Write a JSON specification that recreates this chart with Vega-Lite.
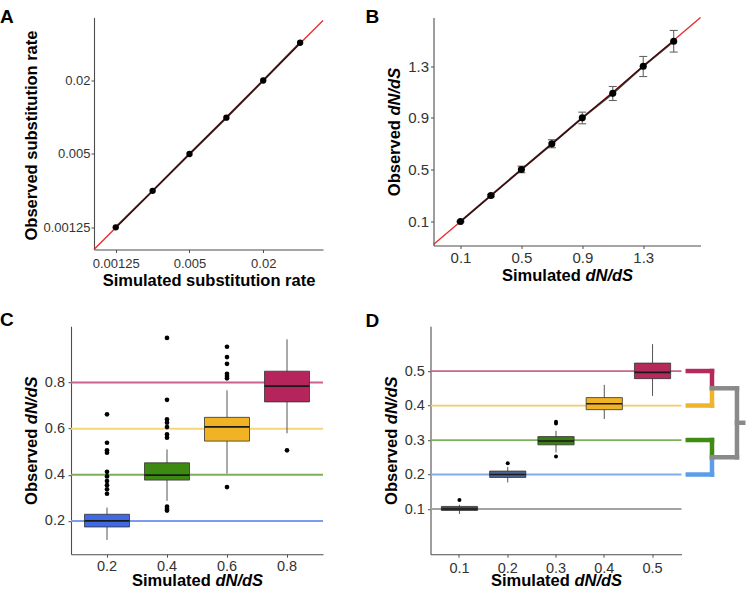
{
  "$schema": "https://vega.github.io/schema/vega-lite/v6.json",
  "background": "white",
  "padding": {"left": 0, "top": 7.5, "right": 0, "bottom": 0},
  "spacing": 20.7,
  "resolve": {"scale": {"fill": "independent", "stroke": "independent", "color": "independent"}},
  "datasets": {
    "identityA": [{"lo": 0.00083, "hi": 0.0615}],
    "substitution": [
      {"simulated": 0.00125, "observed": 0.00126},
      {"simulated": 0.0025, "observed": 0.0025},
      {"simulated": 0.005, "observed": 0.005},
      {"simulated": 0.01, "observed": 0.0099},
      {"simulated": 0.02, "observed": 0.0199},
      {"simulated": 0.04, "observed": 0.0405}
    ],
    "identityB": [{"lo": -0.077, "hi": 1.676}],
    "dndsSim": [
      {"simulated": 0.1, "observed": 0.1, "lo": 0.096, "hi": 0.104},
      {"simulated": 0.3, "observed": 0.301, "lo": 0.292, "hi": 0.31},
      {"simulated": 0.5, "observed": 0.502, "lo": 0.477, "hi": 0.528},
      {"simulated": 0.7, "observed": 0.7, "lo": 0.67, "hi": 0.732},
      {"simulated": 0.9, "observed": 0.901, "lo": 0.855, "hi": 0.945},
      {"simulated": 1.1, "observed": 1.09, "lo": 1.035, "hi": 1.143},
      {"simulated": 1.3, "observed": 1.3, "lo": 1.22, "hi": 1.375},
      {"simulated": 1.5, "observed": 1.493, "lo": 1.409, "hi": 1.576}
    ],
    "referenceC": [
      {"level": "0.2", "value": 0.2},
      {"level": "0.4", "value": 0.4},
      {"level": "0.6", "value": 0.6},
      {"level": "0.8", "value": 0.8}
    ],
    "boxesC": [
      {"simulated": "0.2", "lower": 0.118, "q1": 0.174, "median": 0.2, "q3": 0.229, "upper": 0.258},
      {"simulated": "0.4", "lower": 0.287, "q1": 0.377, "median": 0.399, "q3": 0.452, "upper": 0.51},
      {"simulated": "0.6", "lower": 0.405, "q1": 0.546, "median": 0.608, "q3": 0.649, "upper": 0.766},
      {"simulated": "0.8", "lower": 0.58, "q1": 0.716, "median": 0.784, "q3": 0.849, "upper": 0.987}
    ],
    "outliersC": [
      {"simulated": "0.2", "value": 0.662},
      {"simulated": "0.2", "value": 0.539},
      {"simulated": "0.2", "value": 0.506},
      {"simulated": "0.2", "value": 0.496},
      {"simulated": "0.2", "value": 0.413},
      {"simulated": "0.2", "value": 0.393},
      {"simulated": "0.2", "value": 0.373},
      {"simulated": "0.2", "value": 0.355},
      {"simulated": "0.2", "value": 0.337},
      {"simulated": "0.2", "value": 0.318},
      {"simulated": "0.4", "value": 0.993},
      {"simulated": "0.4", "value": 0.725},
      {"simulated": "0.4", "value": 0.64},
      {"simulated": "0.4", "value": 0.626},
      {"simulated": "0.4", "value": 0.607},
      {"simulated": "0.4", "value": 0.575},
      {"simulated": "0.4", "value": 0.561},
      {"simulated": "0.4", "value": 0.262},
      {"simulated": "0.4", "value": 0.252},
      {"simulated": "0.4", "value": 0.245},
      {"simulated": "0.6", "value": 0.955},
      {"simulated": "0.6", "value": 0.91},
      {"simulated": "0.6", "value": 0.881},
      {"simulated": "0.6", "value": 0.838},
      {"simulated": "0.6", "value": 0.828},
      {"simulated": "0.6", "value": 0.818},
      {"simulated": "0.6", "value": 0.347},
      {"simulated": "0.8", "value": 0.506}
    ],
    "referenceD": [
      {"level": "0.1", "value": 0.1},
      {"level": "0.2", "value": 0.2},
      {"level": "0.3", "value": 0.3},
      {"level": "0.4", "value": 0.4},
      {"level": "0.5", "value": 0.5}
    ],
    "boxesD": [
      {"simulated": "0.1", "lower": 0.0855, "q1": 0.096, "median": 0.1, "q3": 0.1075, "upper": 0.112},
      {"simulated": "0.2", "lower": 0.177, "q1": 0.1915, "median": 0.2, "q3": 0.21, "upper": 0.222},
      {"simulated": "0.3", "lower": 0.264, "q1": 0.286, "median": 0.297, "q3": 0.31, "upper": 0.327},
      {"simulated": "0.4", "lower": 0.361, "q1": 0.388, "median": 0.405, "q3": 0.423, "upper": 0.46},
      {"simulated": "0.5", "lower": 0.428, "q1": 0.478, "median": 0.496, "q3": 0.523, "upper": 0.578}
    ],
    "outliersD": [
      {"simulated": "0.1", "value": 0.126},
      {"simulated": "0.2", "value": 0.233},
      {"simulated": "0.3", "value": 0.353},
      {"simulated": "0.3", "value": 0.348},
      {"simulated": "0.3", "value": 0.252}
    ],
    "bracketD": [
      {"branch": "0.5", "from_depth": 1.025, "to_depth": 1.1215, "from_value": 0.5, "to_value": 0.5},
      {"branch": "0.5", "from_depth": 1.1215, "to_depth": 1.1215, "from_value": 0.5, "to_value": 0.45},
      {"branch": "0.4", "from_depth": 1.025, "to_depth": 1.1215, "from_value": 0.4, "to_value": 0.4},
      {"branch": "0.4", "from_depth": 1.1215, "to_depth": 1.1215, "from_value": 0.4, "to_value": 0.45},
      {"branch": "0.3", "from_depth": 1.025, "to_depth": 1.1215, "from_value": 0.3, "to_value": 0.3},
      {"branch": "0.3", "from_depth": 1.1215, "to_depth": 1.1215, "from_value": 0.3, "to_value": 0.25},
      {"branch": "0.2", "from_depth": 1.025, "to_depth": 1.1215, "from_value": 0.2, "to_value": 0.2},
      {"branch": "0.2", "from_depth": 1.1215, "to_depth": 1.1215, "from_value": 0.2, "to_value": 0.25},
      {"branch": "joined", "from_depth": 1.1215, "to_depth": 1.221, "from_value": 0.45, "to_value": 0.45},
      {"branch": "joined", "from_depth": 1.1215, "to_depth": 1.221, "from_value": 0.25, "to_value": 0.25},
      {"branch": "joined", "from_depth": 1.221, "to_depth": 1.221, "from_value": 0.45, "to_value": 0.25},
      {"branch": "joined", "from_depth": 1.221, "to_depth": 1.246, "from_value": 0.35, "to_value": 0.35}
    ]
  },
  "vconcat": [
    {
      "spacing": 41.5,
      "resolve": {"scale": {"fill": "independent", "stroke": "independent", "color": "independent"}},
      "hconcat": [
        {
          "width": 252,
          "height": 232,
          "title": {"text": "A", "dx": -71, "dy": 13.5},
          "resolve": {"axis": {"x": "independent", "y": "independent"}},
          "layer": [
            {
              "data": {"name": "identityA"},
              "mark": {"type": "rule", "color": "#e8292b", "strokeWidth": 1.3},
              "encoding": {
                "x": {
                  "field": "lo", "type": "quantitative",
                  "scale": {"type": "log", "domain": [0.000539, 0.0615], "nice": false},
                  "axis": {"orient": "bottom", "values": [0.00125, 0.005, 0.02], "format": "~g", "labelFontSize": 13, "labelPadding": 5, "labelFlush": false,
                           "domainDash": [0, 23, 240],
                           "title": "Simulated substitution rate", "titleAlign": "center", "titleBaseline": "alphabetic", "titleX": 137.5, "titleY": 36}
                },
                "y": {
                  "field": "lo", "type": "quantitative",
                  "scale": {"type": "log", "domain": [0.00083, 0.0651], "nice": false},
                  "axis": {"orient": "left", "offset": -23, "values": [0.00125, 0.005, 0.02], "format": "~g", "labelFontSize": 13, "labelPadding": 1, "labelFlush": false,
                           "title": "Observed substitution rate", "titleAngle": 270, "titleAlign": "center", "titleBaseline": "alphabetic", "titleX": -57.5, "titleY": 117.5}
                },
                "x2": {"field": "hi"},
                "y2": {"field": "hi"}
              }
            },
            {
              "data": {"name": "substitution"},
              "mark": {"type": "line", "color": "#000000", "strokeWidth": 2, "opacity": 0.75},
              "encoding": {
                "x": {"field": "simulated", "type": "quantitative", "axis": null},
                "y": {"field": "observed", "type": "quantitative", "axis": null}
              }
            },
            {
              "data": {"name": "substitution"},
              "mark": {"type": "point", "filled": true, "color": "#000000", "size": 40, "opacity": 1},
              "encoding": {
                "x": {"field": "simulated", "type": "quantitative", "axis": null},
                "y": {"field": "observed", "type": "quantitative", "axis": null}
              }
            }
          ]
        },
        {
          "width": 267,
          "height": 228,
          "title": {"text": "B", "dx": -68, "dy": 14.2},
          "resolve": {"axis": {"x": "independent", "y": "independent"}},
          "layer": [
            {
              "data": {"name": "identityB"},
              "mark": {"type": "rule", "color": "#e8292b", "strokeWidth": 1.3},
              "encoding": {
                "x": {
                  "field": "lo", "type": "quantitative",
                  "scale": {"domain": [-0.077, 1.676], "nice": false, "zero": false},
                  "axis": {"orient": "bottom", "values": [0.1, 0.5, 0.9, 1.3], "format": ".1f", "labelFontSize": 15, "labelPadding": 1.5, "labelFlush": false,
                           "title": "Simulated", "titleAlign": "left", "titleBaseline": "alphabetic", "titleX": 68, "titleY": 35}
                },
                "y": {
                  "field": "lo", "type": "quantitative",
                  "scale": {"domain": [-0.085, 1.676], "nice": false, "zero": false},
                  "axis": {"orient": "left", "values": [0.1, 0.5, 0.9, 1.3], "format": ".1f", "labelFontSize": 15, "labelPadding": 2, "labelFlush": false,
                           "title": "Observed", "titleAngle": 270, "titleAlign": "left", "titleBaseline": "alphabetic", "titleX": -34.5, "titleY": 178.2}
                },
                "x2": {"field": "hi"},
                "y2": {"field": "hi"}
              }
            },
            {
              "data": {"name": "dndsSim"},
              "mark": {"type": "rule", "color": "#666666", "strokeWidth": 1.1},
              "encoding": {
                "x": {"field": "simulated", "type": "quantitative", "axis": null},
                "y": {"field": "lo", "type": "quantitative", "axis": null},
                "y2": {"field": "hi"}
              }
            },
            {
              "data": {"name": "dndsSim"},
              "mark": {"type": "tick", "orient": "horizontal", "color": "#666666", "size": 8, "thickness": 1.1, "opacity": 1},
              "encoding": {
                "x": {"field": "simulated", "type": "quantitative", "axis": null},
                "y": {"field": "lo", "type": "quantitative", "axis": null}
              }
            },
            {
              "data": {"name": "dndsSim"},
              "mark": {"type": "tick", "orient": "horizontal", "color": "#666666", "size": 8, "thickness": 1.1, "opacity": 1},
              "encoding": {
                "x": {"field": "simulated", "type": "quantitative", "axis": null},
                "y": {"field": "hi", "type": "quantitative", "axis": null}
              }
            },
            {
              "data": {"name": "dndsSim"},
              "mark": {"type": "line", "color": "#000000", "strokeWidth": 2, "opacity": 0.75},
              "encoding": {
                "x": {
                  "field": "simulated", "type": "quantitative",
                  "axis": {"orient": "bottom", "labels": false, "ticks": false, "domain": false,
                           "title": "dN/dS", "titleFontStyle": "italic", "titleAlign": "left", "titleBaseline": "alphabetic", "titleX": 151.4, "titleY": 35}
                },
                "y": {
                  "field": "observed", "type": "quantitative",
                  "axis": {"orient": "left", "labels": false, "ticks": false, "domain": false,
                           "title": "dN/dS", "titleFontStyle": "italic", "titleAngle": 270, "titleAlign": "left", "titleBaseline": "alphabetic", "titleX": -34.5, "titleY": 97.5}
                }
              }
            },
            {
              "data": {"name": "dndsSim"},
              "mark": {"type": "point", "filled": true, "color": "#000000", "size": 50, "opacity": 1},
              "encoding": {
                "x": {"field": "simulated", "type": "quantitative", "axis": null},
                "y": {"field": "observed", "type": "quantitative", "axis": null}
              }
            }
          ]
        }
      ]
    },
    {
      "spacing": 41.5,
      "resolve": {"scale": {"fill": "independent", "stroke": "independent", "color": "independent"}},
      "hconcat": [
        {
          "width": 252,
          "height": 228,
          "title": {"text": "C", "dx": -71, "dy": 7.7},
          "resolve": {"axis": {"x": "independent", "y": "independent"}},
          "layer": [
            {
              "data": {"name": "referenceC"},
              "mark": {"type": "rule", "strokeWidth": 2},
              "encoding": {
                "y": {"field": "value", "type": "quantitative", "scale": {"domain": [0.056, 1.044], "nice": false, "zero": false}, "axis": null},
                "stroke": {
                  "field": "level", "type": "nominal", "legend": null,
                  "scale": {"domain": ["0.2", "0.4", "0.6", "0.8"], "range": ["#7d9cec", "#7bb152", "#f6d679", "#cb6390"]}
                }
              }
            },
            {
              "data": {"name": "boxesC"},
              "mark": {"type": "rule", "color": "#555555", "strokeWidth": 1},
              "encoding": {
                "x": {"field": "simulated", "type": "nominal", "scale": {"domain": ["0.2", "0.4", "0.6", "0.8"], "paddingInner": 0.25, "paddingOuter": 0.225}, "axis": null},
                "y": {"field": "lower", "type": "quantitative", "scale": {"domain": [0.056, 1.044], "nice": false, "zero": false}, "axis": null},
                "y2": {"field": "upper"}
              }
            },
            {
              "data": {"name": "boxesC"},
              "mark": {"type": "bar", "stroke": "#333333", "strokeWidth": 0.8},
              "encoding": {
                "x": {
                  "field": "simulated", "type": "nominal",
                  "scale": {"domain": ["0.2", "0.4", "0.6", "0.8"], "paddingInner": 0.25, "paddingOuter": 0.225},
                  "axis": {"orient": "bottom", "labelAngle": 0, "labelFontSize": 14.5, "labelPadding": 2.5,
                           "title": "Simulated", "titleAlign": "left", "titleBaseline": "alphabetic", "titleX": 60.5, "titleY": 31.5}
                },
                "y": {
                  "field": "q1", "type": "quantitative",
                  "scale": {"domain": [0.056, 1.044], "nice": false, "zero": false},
                  "axis": {"orient": "left", "values": [0.2, 0.4, 0.6, 0.8], "format": ".1f", "labelFontSize": 14.5, "labelPadding": 3.5, "labelFlush": false,
                           "title": "Observed", "titleAngle": 270, "titleAlign": "left", "titleBaseline": "alphabetic", "titleX": -35, "titleY": 178.2}
                },
                "y2": {"field": "q3"},
                "fill": {
                  "field": "simulated", "type": "nominal", "legend": null,
                  "scale": {"domain": ["0.2", "0.4", "0.6", "0.8"], "range": ["#4169e1", "#3c8a12", "#efb325", "#b5245a"]}
                }
              }
            },
            {
              "data": {"name": "boxesC"},
              "mark": {"type": "tick", "orient": "horizontal", "color": "#1a1a1a", "size": 45, "thickness": 1.8, "opacity": 1},
              "encoding": {
                "x": {
                  "field": "simulated", "type": "nominal",
                  "scale": {"domain": ["0.2", "0.4", "0.6", "0.8"], "paddingInner": 0.25, "paddingOuter": 0.225},
                  "axis": {"orient": "bottom", "labels": false, "ticks": false, "domain": false,
                           "title": "dN/dS", "titleFontStyle": "italic", "titleAlign": "left", "titleBaseline": "alphabetic", "titleX": 143.9, "titleY": 31.5}
                },
                "y": {
                  "field": "median", "type": "quantitative",
                  "scale": {"domain": [0.056, 1.044], "nice": false, "zero": false},
                  "axis": {"orient": "left", "labels": false, "ticks": false, "domain": false,
                           "title": "dN/dS", "titleFontStyle": "italic", "titleAngle": 270, "titleAlign": "left", "titleBaseline": "alphabetic", "titleX": -35, "titleY": 97.5}
                }
              }
            },
            {
              "data": {"name": "outliersC"},
              "mark": {"type": "point", "filled": true, "color": "#000000", "size": 22, "opacity": 1},
              "encoding": {
                "x": {"field": "simulated", "type": "nominal", "scale": {"domain": ["0.2", "0.4", "0.6", "0.8"], "paddingInner": 0.25, "paddingOuter": 0.225}, "axis": null},
                "y": {"field": "value", "type": "quantitative", "scale": {"domain": [0.056, 1.044], "nice": false, "zero": false}, "axis": null}
              }
            }
          ]
        },
        {
          "width": 251,
          "height": 228,
          "title": {"text": "D", "dx": -65, "dy": 8.7},
          "resolve": {"scale": {"x": "independent"}, "axis": {"x": "independent", "y": "independent"}},
          "layer": [
            {
              "resolve": {"axis": {"x": "independent", "y": "independent"}},
              "layer": [
                {
                  "data": {"name": "referenceD"},
                  "mark": {"type": "rule", "strokeWidth": 1.8},
                  "encoding": {
                    "y": {"field": "value", "type": "quantitative", "scale": {"domain": [-0.031, 0.63], "nice": false, "zero": false}, "axis": null},
                    "stroke": {
                      "field": "level", "type": "nominal", "legend": null,
                      "scale": {"domain": ["0.1", "0.2", "0.3", "0.4", "0.5"], "range": ["#a3a3a3", "#84ace9", "#7cb25a", "#f3cb60", "#c9668d"]}
                    }
                  }
                },
                {
                  "data": {"name": "boxesD"},
                  "mark": {"type": "rule", "color": "#555555", "strokeWidth": 1},
                  "encoding": {
                    "x": {"field": "simulated", "type": "nominal", "scale": {"domain": ["0.1", "0.2", "0.3", "0.4", "0.5"], "paddingInner": 0.25, "paddingOuter": 0.225}, "axis": null},
                    "y": {"field": "lower", "type": "quantitative", "scale": {"domain": [-0.031, 0.63], "nice": false, "zero": false}, "axis": null},
                    "y2": {"field": "upper"}
                  }
                },
                {
                  "data": {"name": "boxesD"},
                  "mark": {"type": "bar", "stroke": "#333333", "strokeWidth": 0.8},
                  "encoding": {
                    "x": {
                      "field": "simulated", "type": "nominal",
                      "scale": {"domain": ["0.1", "0.2", "0.3", "0.4", "0.5"], "paddingInner": 0.25, "paddingOuter": 0.225},
                      "axis": {"orient": "bottom", "labelAngle": 0, "labelFontSize": 14.5, "labelPadding": 4,
                               "title": "Simulated", "titleAlign": "left", "titleBaseline": "alphabetic", "titleX": 60, "titleY": 31.5}
                    },
                    "y": {
                      "field": "q1", "type": "quantitative",
                      "scale": {"domain": [-0.031, 0.63], "nice": false, "zero": false},
                      "axis": {"orient": "left", "values": [0.1, 0.2, 0.3, 0.4, 0.5], "format": ".1f", "labelFontSize": 14.5, "labelPadding": 3.2, "labelFlush": false,
                               "title": "Observed", "titleAngle": 270, "titleAlign": "left", "titleBaseline": "alphabetic", "titleX": -34, "titleY": 178.2}
                    },
                    "y2": {"field": "q3"},
                    "fill": {
                      "field": "simulated", "type": "nominal", "legend": null,
                      "scale": {"domain": ["0.1", "0.2", "0.3", "0.4", "0.5"], "range": ["#4d4d4d", "#4d6394", "#3a7d14", "#efb325", "#b52a5b"]}
                    }
                  }
                },
                {
                  "data": {"name": "boxesD"},
                  "mark": {"type": "tick", "orient": "horizontal", "color": "#1a1a1a", "size": 36, "thickness": 1.6, "opacity": 1},
                  "encoding": {
                    "x": {
                      "field": "simulated", "type": "nominal",
                      "scale": {"domain": ["0.1", "0.2", "0.3", "0.4", "0.5"], "paddingInner": 0.25, "paddingOuter": 0.225},
                      "axis": {"orient": "bottom", "labels": false, "ticks": false, "domain": false,
                               "title": "dN/dS", "titleFontStyle": "italic", "titleAlign": "left", "titleBaseline": "alphabetic", "titleX": 143.4, "titleY": 31.5}
                    },
                    "y": {
                      "field": "median", "type": "quantitative",
                      "scale": {"domain": [-0.031, 0.63], "nice": false, "zero": false},
                      "axis": {"orient": "left", "labels": false, "ticks": false, "domain": false,
                               "title": "dN/dS", "titleFontStyle": "italic", "titleAngle": 270, "titleAlign": "left", "titleBaseline": "alphabetic", "titleX": -34, "titleY": 97.5}
                    }
                  }
                },
                {
                  "data": {"name": "outliersD"},
                  "mark": {"type": "point", "filled": true, "color": "#000000", "size": 16, "opacity": 1},
                  "encoding": {
                    "x": {"field": "simulated", "type": "nominal", "scale": {"domain": ["0.1", "0.2", "0.3", "0.4", "0.5"], "paddingInner": 0.25, "paddingOuter": 0.225}, "axis": null},
                    "y": {"field": "value", "type": "quantitative", "scale": {"domain": [-0.031, 0.63], "nice": false, "zero": false}, "axis": null}
                  }
                }
              ]
            },
            {
              "data": {"name": "bracketD"},
              "mark": {"type": "rule", "strokeWidth": 4.5, "strokeCap": "square"},
              "encoding": {
                "x": {"field": "from_depth", "type": "quantitative", "scale": {"domain": [0, 1], "nice": false, "zero": false}, "axis": null},
                "x2": {"field": "to_depth"},
                "y": {"field": "from_value", "type": "quantitative", "scale": {"domain": [-0.031, 0.63], "nice": false, "zero": false}, "axis": null},
                "y2": {"field": "to_value"},
                "color": {
                  "field": "branch", "type": "nominal", "legend": null,
                  "scale": {"domain": ["0.5", "0.4", "0.3", "0.2", "joined"], "range": ["#b5295c", "#f0b42a", "#3e8c12", "#5c9ce8", "#8a8a8a"]}
                }
              }
            }
          ]
        }
      ]
    }
  ],
  "config": {
    "view": {"stroke": null},
    "font": "Liberation Sans",
    "title": {"font": "Liberation Sans", "fontSize": 19, "fontWeight": "bold", "anchor": "start", "frame": "group", "baseline": "alphabetic", "offset": 0, "color": "#000000"},
    "axis": {
      "grid": false,
      "domainColor": "#4d4d4d", "domainWidth": 1.1,
      "tickColor": "#4d4d4d", "tickWidth": 1, "tickSize": 3,
      "labelColor": "#333333", "labelFont": "Liberation Sans", "labelFontSize": 14.5, "labelPadding": 2,
      "titleFont": "Liberation Sans", "titleFontSize": 16.5, "titleFontWeight": "bold", "titleColor": "#000000"
    }
  }
}
